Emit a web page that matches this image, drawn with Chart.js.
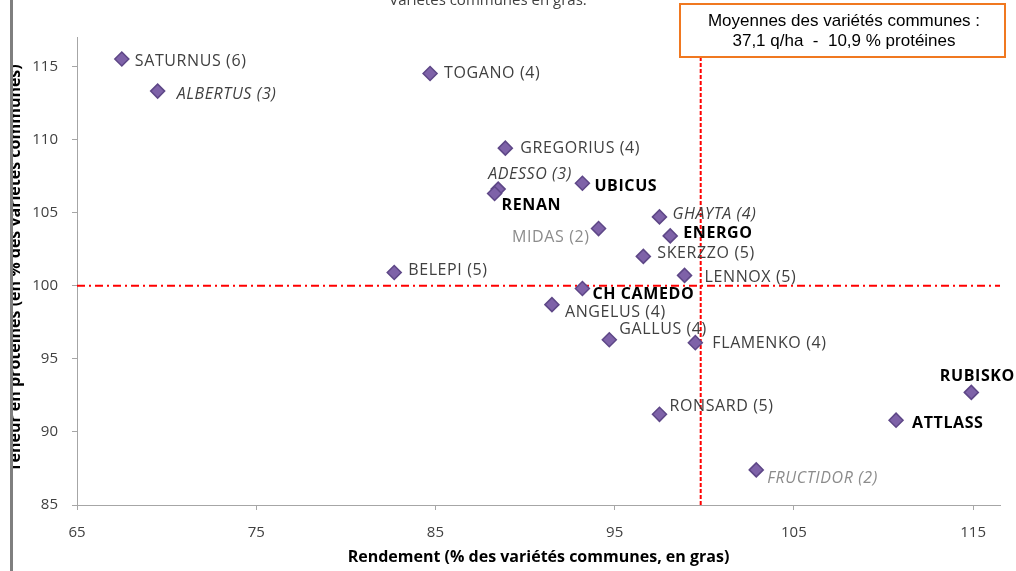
<!DOCTYPE html>
<html>
<head>
<title>Rendement / protéines</title>
<style>
  body { margin: 0; background: #fff; }
  canvas { display: block; }
</style>
<script src="https://cdn.jsdelivr.net/npm/chart.js"></script>
</head>
<body>
<canvas id="chart" width="1016" height="571"></canvas>
<script>
// varietes, rendement (% communes), proteines (% communes)
const names = ["SATURNUS (6)", "ALBERTUS (3)", "TOGANO (4)", "GREGORIUS (4)", "ADESSO (3)", "UBICUS",
  "RENAN", "GHAYTA (4)", "ENERGO", "MIDAS (2)", "SKERZZO (5)", "BELEPI (5)", "LENNOX (5)",
  "CH CAMEDO", "ANGELUS (4)", "GALLUS (4)", "FLAMENKO (4)", "RUBISKO", "RONSARD (5)", "ATTLASS", "FRUCTIDOR (2)"];
const rendement = [67.5, 69.5, 84.7, 88.9, 88.5, 93.2, 88.3, 97.5, 98.1, 94.1, 96.6, 82.7, 98.9,
  93.2, 91.5, 94.7, 99.5, 114.9, 97.5, 110.7, 102.9];
const proteines = [115.5, 113.3, 114.5, 109.4, 106.6, 107.0, 106.3, 104.7, 103.4, 103.9, 102.0, 100.9, 100.7,
  99.8, 98.7, 96.3, 96.1, 92.7, 91.2, 90.8, 87.4];
// type de variete : n = normal, c = commune (gras), i = italique, g = gris
const types = ["n", "i", "n", "n", "i", "c", "c", "i", "c", "g", "n", "n", "n",
  "c", "n", "n", "n", "c", "n", "c", "gi"];
const xTicks = [65, 75, 85, 95, 105, 115];
const yTicks = [85, 90, 95, 100, 105, 110, 115];
const moyX = 99.8, moyY = 100;

// decalage des etiquettes [dx, dy, align]
const labelPos = {
  "SATURNUS (6)": [13, 2], "ALBERTUS (3)": [19, 3], "TOGANO (4)": [14, 0], "GREGORIUS (4)": [15, 0],
  "ADESSO (3)": [-10, -15], "UBICUS": [12, 3], "RENAN": [7, 12], "GHAYTA (4)": [13, -2],
  "ENERGO": [13, -2], "MIDAS (2)": [-9, 9, "right"], "SKERZZO (5)": [14, -3], "BELEPI (5)": [14, -2],
  "LENNOX (5)": [20, 2], "CH CAMEDO": [10, 6], "ANGELUS (4)": [13, 8], "GALLUS (4)": [10, -10],
  "FLAMENKO (4)": [17, 1], "RUBISKO": [6, -16, "center"], "RONSARD (5)": [10, -8], "ATTLASS": [16, 3],
  "FRUCTIDOR (2)": [11, 9]
};

const FONT = "'Open Sans', sans-serif";

const refLines = {
  id: "refLines",
  beforeDatasetsDraw(chart) {
    const c = chart.ctx, a = chart.chartArea;
    const x = chart.scales.x.getPixelForValue(moyX);
    const y = chart.scales.y.getPixelForValue(moyY);
    c.save();
    c.strokeStyle = "#ff0000";
    c.lineWidth = 2;
    c.setLineDash([4, 2]);
    c.beginPath(); c.moveTo(x, 57); c.lineTo(x, a.bottom); c.stroke();
    c.setLineDash([8, 4, 2, 4]);
    c.beginPath(); c.moveTo(a.left, y); c.lineTo(a.right, y); c.stroke();
    c.restore();
  }
};

const decor = {
  id: "decor",
  afterDraw(chart) {
    const c = chart.ctx;
    const meta = chart.getDatasetMeta(0);
    c.save();
    c.textBaseline = "middle";
    c.letterSpacing = "0.6px";
    meta.data.forEach((pt, i) => {
      const p = labelPos[names[i]] || [12, 0];
      const t = types[i];
      let f = "16px " + FONT;
      if (t === "c") f = "bold 16px " + FONT;
      if (t.includes("i")) f = "italic 16px " + FONT;
      c.font = f;
      c.fillStyle = t === "c" ? "#000" : (t.includes("g") ? "#8c8c8c" : "#404040");
      c.textAlign = p[2] || "left";
      c.fillText(names[i], pt.x + p[0], pt.y + p[1]);
    });
    c.letterSpacing = "0px";
    // titre partiellement visible
    c.textAlign = "center";
    c.fillStyle = "#404040";
    c.font = "15px " + FONT;
    c.fillText("Variétés communes en gras.", 488, 1);
    // encadre des moyennes
    c.fillStyle = "#fff";
    c.fillRect(680, 4, 325, 53);
    c.strokeStyle = "#f07820";
    c.lineWidth = 2;
    c.strokeRect(680, 4, 325, 53);
    c.fillStyle = "#000";
    c.font = "17px 'Liberation Sans', Arial, sans-serif";
    c.fillText("Moyennes des variétés communes :", 844, 21);
    c.fillText("37,1 q/ha  -  10,9 % protéines", 844, 41);
    // titre axe y (coupe)
    c.save();
    c.beginPath(); c.rect(13, 0, 100, 571); c.clip();
    c.translate(20, 268);
    c.rotate(-Math.PI / 2);
    c.textBaseline = "alphabetic";
    c.font = "bold 16px " + FONT;
    c.fillStyle = "#000";
    c.fillText("Teneur en protéines (en % des variétés communes)", 0, 0);
    c.restore();
    // cadre gauche
    c.fillStyle = "#7f7f7f";
    c.fillRect(10, 0, 3, 571);
    c.restore();
  }
};

const axisStyle = (ticks) => ({
  type: "linear",
  afterBuildTicks: s => { s.ticks = ticks.map(v => ({ value: v })); },
  border: { color: "#a6a6a6", width: 1 },
  grid: { drawOnChartArea: false, drawTicks: true, tickLength: 5, color: "#a6a6a6" },
  ticks: { color: "#404040", font: { family: FONT, size: 15 }, padding: 14 }
});

const xAxis = axisStyle(xTicks);
xAxis.min = 65; xAxis.max = 116.5;
xAxis.title = { display: true, text: "Rendement (% des variétés communes, en gras)", color: "#000",
  font: { family: FONT, size: 16, weight: "bold" }, padding: { top: 4 } };
xAxis.afterFit = s => { s.height = 66; };
const yAxis = axisStyle(yTicks);
yAxis.min = 85; yAxis.max = 117;
yAxis.afterFit = s => { s.width = 77; };

new Chart(document.getElementById("chart"), {
  type: "scatter",
  data: {
    datasets: [{
      data: rendement.map((x, i) => ({ x: x, y: proteines[i] })),
      pointStyle: "rectRot",
      pointRadius: 7,
      pointHoverRadius: 7,
      backgroundColor: "#7e62a8",
      borderColor: "#5e4787",
      borderWidth: 1.5
    }]
  },
  options: {
    responsive: false,
    animation: false,
    layout: { padding: { top: 37, right: 16, left: 0, bottom: 0 } },
    plugins: { legend: { display: false }, tooltip: { enabled: false } },
    scales: { x: xAxis, y: yAxis }
  },
  plugins: [refLines, decor]
});
</script>
</body>
</html>
